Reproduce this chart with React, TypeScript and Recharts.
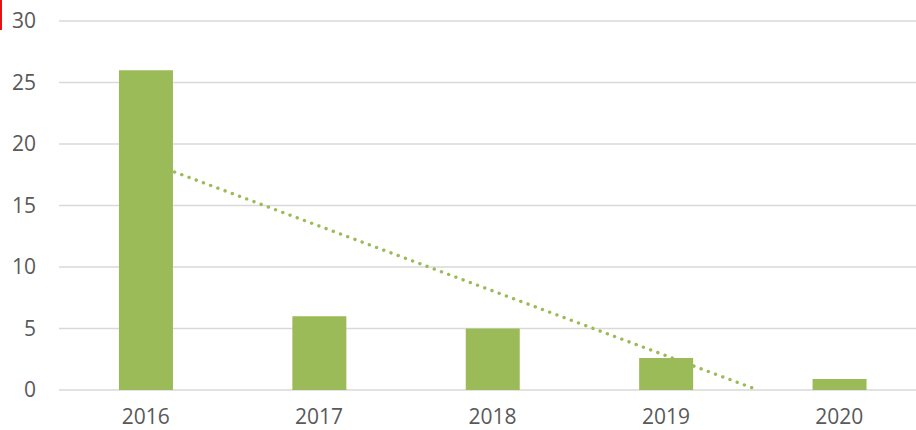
import { Bar, CartesianGrid, ComposedChart, Line, XAxis, YAxis } from "recharts";

const years = [2016, 2017, 2018, 2019, 2020];
const counts = [26, 6, 5, 2.6, 0.9];

// linear trend as drawn: starts at the 2016 category, hits zero just past 2019
const trendYears = [2016, 2019.53];
const trendValues = [18.6, 0];

const yTicks = [0, 5, 10, 15, 20, 25, 30];

const barRows = years.map((year, i) => ({ year, count: counts[i] }));
const trendRows = trendYears.map((year, i) => ({ year, trend: trendValues[i] }));

const axisTick = { fill: "#595959", fontSize: 21, fontFamily: "'Open Sans', sans-serif" };

export default function App() {
  return (
    <div style={{ position: "absolute", left: 0, top: 0, width: 916, height: 430, overflow: "hidden", background: "#fff" }}>
      <div style={{ position: "absolute", left: 0, top: 0, width: 2, height: 30, background: "#e81010" }} />
      <ComposedChart width={926} height={430} data={barRows} margin={{ top: 21, right: 0, bottom: 0, left: 0 }}>
        <CartesianGrid vertical={false} stroke="#d9d9d9" strokeWidth={1.5} />
        <XAxis
          dataKey="year"
          type="number"
          domain={[2015.5, 2020.5]}
          ticks={years}
          allowDataOverflow
          axisLine={false}
          tickLine={false}
          tick={axisTick}
          tickMargin={13}
          height={40}
        />
        <YAxis
          domain={[0, 30]}
          ticks={yTicks}
          axisLine={false}
          tickLine={false}
          tick={axisTick}
          tickMargin={17}
          width={59}
        />
        <Line
          data={trendRows}
          dataKey="trend"
          stroke="#9bbb59"
          strokeWidth={3.4}
          strokeDasharray="0.1 7.6"
          strokeLinecap="round"
          dot={false}
          activeDot={false}
          zIndex={250}
          isAnimationActive={false}
        />
        <Bar dataKey="count" fill="#9bbb59" barSize={54} zIndex={300} isAnimationActive={false} />
      </ComposedChart>
    </div>
  );
}
